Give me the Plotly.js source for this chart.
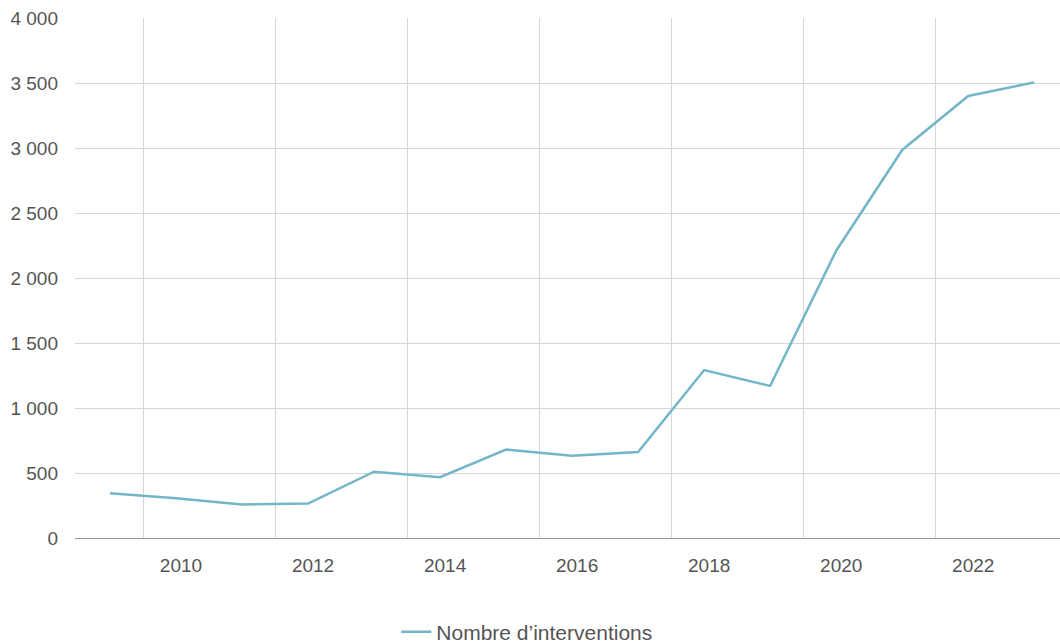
<!DOCTYPE html>
<html>
<head>
<meta charset="utf-8">
<script src="https://cdn.plot.ly/plotly-3.0.1.min.js"></script>
<style>html,body{margin:0;padding:0;background:#fff;}#chart{width:1060px;height:643px;}</style>
</head>
<body>
<div id="chart"></div>
<script>
const years = [2009, 2010, 2011, 2012, 2013, 2014, 2015, 2016, 2017, 2018, 2019, 2020, 2021, 2022, 2023];
const interventions = [345, 305, 258, 265, 510, 468, 680, 633, 662, 1292, 1170, 2210, 2985, 3400, 3505];
const seriesName = "Nombre d\u2019interventions";
const xTickVals = [2010, 2012, 2014, 2016, 2018, 2020, 2022];
const xTickText = ["2010", "2012", "2014", "2016", "2018", "2020", "2022"];

const trace = {
  x: years,
  y: interventions,
  type: 'scatter',
  mode: 'lines',
  name: seriesName,
  line: {color: '#74b6c9', width: 2.5},
  showlegend: true
};

const layout = {
  width: 1060,
  height: 643,
  margin: {l: 75, r: 0, t: 18, b: 105},
  paper_bgcolor: '#fff',
  plot_bgcolor: '#fff',
  separators: ', ',
  font: {family: 'Arial, "Liberation Sans", sans-serif', size: 19, color: '#555'},
  showlegend: true,
  legend: {orientation: 'h', xref: 'container', yref: 'container', x: 0.497, xanchor: 'center', y: 0.017, yanchor: 'middle', font: {size: 21, color: '#555'}},
  xaxis: {
    range: [2008.47, 2023.39],
    tickmode: 'array',
    tickvals: xTickVals,
    ticktext: xTickText,
    showgrid: false,
    zeroline: false,
    showline: false,
    ticks: '',
    automargin: false,
    ticklabelstandoff: 14,
    ticklabelshift: 5,
    minor: {tick0: 2009.5, dtick: 2, showgrid: true, gridcolor: '#d6d6d6', gridwidth: 1, ticks: ''}
  },
  yaxis: {
    range: [0, 4000],
    tickvals: [0, 500, 1000, 1500, 2000, 2500, 3000, 3500, 4000],
    tickformat: ',d',
    showgrid: true,
    gridcolor: '#d6d6d6',
    zeroline: true,
    zerolinecolor: '#999',
    zerolinewidth: 1,
    showline: false,
    ticks: '',
    automargin: false,
    ticklabelstandoff: 16
  }
};

Plotly.newPlot('chart', [trace], layout, {displayModeBar: false, staticPlot: true});
</script>
</body>
</html>
